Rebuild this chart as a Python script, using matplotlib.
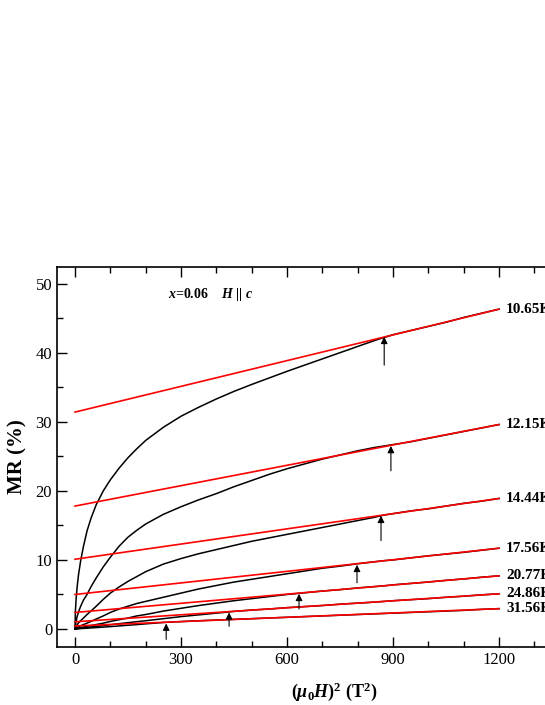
import numpy as np
import matplotlib
matplotlib.use("Agg")
import matplotlib.pyplot as plt
from matplotlib.ticker import MultipleLocator

plt.rcParams['font.family'] = ['Liberation Serif', 'DejaVu Serif']
plt.rcParams['mathtext.fontset'] = 'custom'
plt.rcParams['mathtext.rm'] = 'Liberation Serif:bold'
plt.rcParams['mathtext.it'] = 'Liberation Serif:italic:bold'
plt.rcParams['mathtext.bf'] = 'Liberation Serif:bold'

# field squared (T^2)
h2 = [0, 1, 3, 6, 10, 16, 24, 34, 45, 60, 80, 100, 125, 150, 175, 200, 250, 300,
      350, 400, 450, 500, 550, 600, 650, 700, 750, 800, 850, 875, 900, 950, 1000,
      1050, 1100, 1150, 1200]

temps = ['10.65K', '12.15K', '14.44K', '17.56K', '20.77K', '24.86K', '31.56K']

mr_1065 = [0, 2.5, 4.3, 6.1, 7.9, 9.9, 12.0, 14.2, 16.0, 18.0, 20.0, 21.6, 23.3, 24.8,
           26.1, 27.3, 29.2, 30.8, 32.1, 33.3, 34.4, 35.4, 36.35, 37.3, 38.2, 39.1, 40.0,
           40.9, 41.8, 42.2, 42.6, 43.2, 43.8, 44.4, 45.1, 45.7, 46.3]
mr_1215 = [0, 0.5, 1.1, 1.8, 2.5, 3.3, 4.2, 5.0, 6.1, 7.4, 9.0, 10.4, 12.0, 13.3, 14.3,
           15.2, 16.6, 17.7, 18.7, 19.6, 20.6, 21.5, 22.4, 23.2, 23.9, 24.6, 25.2, 25.8,
           26.3, 26.5, 26.7, 27.1, 27.6, 28.1, 28.6, 29.1, 29.6]
mr_1444 = [0, 0.15, 0.35, 0.6, 0.9, 1.2, 1.6, 2.1, 2.6, 3.3, 4.3, 5.2, 6.1, 6.9, 7.6,
           8.3, 9.4, 10.2, 10.9, 11.5, 12.1, 12.7, 13.2, 13.7, 14.2, 14.7, 15.2, 15.7,
           16.2, 16.5, 16.7, 17.1, 17.4, 17.8, 18.2, 18.5, 18.9]
mr_1756 = [0, 0.05, 0.12, 0.22, 0.33, 0.48, 0.65, 0.85, 1.1, 1.45, 1.9, 2.4, 2.9, 3.3,
           3.7, 4.0, 4.6, 5.2, 5.8, 6.3, 6.8, 7.2, 7.6, 8.0, 8.4, 8.8, 9.1, 9.45, 9.75,
           9.9, 10.0, 10.3, 10.6, 10.85, 11.1, 11.4, 11.7]
mr_2077 = [0, 0.02, 0.05, 0.1, 0.15, 0.22, 0.3, 0.4, 0.5, 0.65, 0.85, 1.1, 1.35, 1.6,
           1.9, 2.1, 2.6, 3.0, 3.4, 3.75, 4.1, 4.4, 4.7, 5.0, 5.25, 5.5, 5.7, 5.95, 6.15,
           6.25, 6.4, 6.6, 6.8, 7.05, 7.25, 7.5, 7.7]
mr_2486 = [0, 0.01, 0.03, 0.05, 0.08, 0.12, 0.17, 0.23, 0.3, 0.38, 0.5, 0.62, 0.78,
           0.92, 1.07, 1.2, 1.5, 1.8, 2.05, 2.3, 2.55, 2.75, 2.9, 3.1, 3.25, 3.4, 3.6,
           3.75, 3.9, 4.0, 4.1, 4.25, 4.4, 4.6, 4.75, 4.95, 5.1]
mr_3156 = [0, 0.005, 0.01, 0.02, 0.04, 0.06, 0.09, 0.12, 0.16, 0.21, 0.28, 0.35, 0.45,
           0.55, 0.64, 0.75, 0.95, 1.08, 1.2, 1.3, 1.4, 1.5, 1.6, 1.7, 1.8, 1.9, 2.0,
           2.1, 2.2, 2.25, 2.3, 2.4, 2.5, 2.6, 2.7, 2.85, 2.95]
curves = [mr_1065, mr_1215, mr_1444, mr_1756, mr_2077, mr_2486, mr_3156]

# linear fits: value at 0 and at 1200 T^2
fit_x = [0, 1200]
fit_start = [31.4, 17.8, 10.1, 5.0, 2.4, 1.05, 0.45]
fit_end = [46.3, 29.6, 18.9, 11.7, 7.7, 5.1, 2.95]

# arrows marking onset of linear behaviour
arrow_x = [875, 894, 866, 798, 634, 436, 258]
arrow_tip = [42.3, 26.5, 16.4, 9.3, 5.1, 2.4, 0.8]
arrow_tail = [38.2, 22.9, 12.8, 6.7, 2.9, 0.4, -1.5]

fig = plt.figure(figsize=(5.45, 7.05), dpi=100)
ax = fig.add_axes([57/545, 58/705, 512.7/545, 380/705])

for mr in curves:
    ax.plot(h2, mr, color='black', lw=1.1)
for y0, y1 in zip(fit_start, fit_end):
    ax.plot(fit_x, [y0, y1], color='red', lw=1.2)

for xa, yt, yb in zip(arrow_x, arrow_tip, arrow_tail):
    ax.annotate('', xy=(xa, yt), xytext=(xa, yb),
                arrowprops=dict(arrowstyle='-|>', color='black', lw=0.8,
                                mutation_scale=10, shrinkA=0, shrinkB=0))

for t, y1 in zip(temps, fit_end):
    ax.text(1220, y1, t, fontsize=11, fontweight='bold', va='center', ha='left',
            clip_on=False)

ax.text(263, 48.4, r'$x$=0.06    $H$ || $c$', fontsize=10, fontweight='bold',
        va='center', ha='left')

ax.set_xlim(-51, 1400)
ax.set_ylim(-2.6, 52.4)
ax.xaxis.set_major_locator(MultipleLocator(300))
ax.xaxis.set_minor_locator(MultipleLocator(100))
ax.yaxis.set_major_locator(MultipleLocator(10))
ax.yaxis.set_minor_locator(MultipleLocator(5))
ax.tick_params(which='both', direction='in', top=True, right=True, labelsize=12,
               width=1)
ax.tick_params(which='major', length=7)
ax.tick_params(which='minor', length=4)
for s in ax.spines.values():
    s.set_linewidth(1.2)

ax.set_xlabel(r'$(\mu_0H)^2$ (T$^2$)', fontsize=13, fontweight='bold')
ax.xaxis.set_label_coords(0.54, -0.088)
ax.set_ylabel('MR (%)', fontsize=15, fontweight='bold', labelpad=6)

fig.savefig('out.png', dpi=100)
